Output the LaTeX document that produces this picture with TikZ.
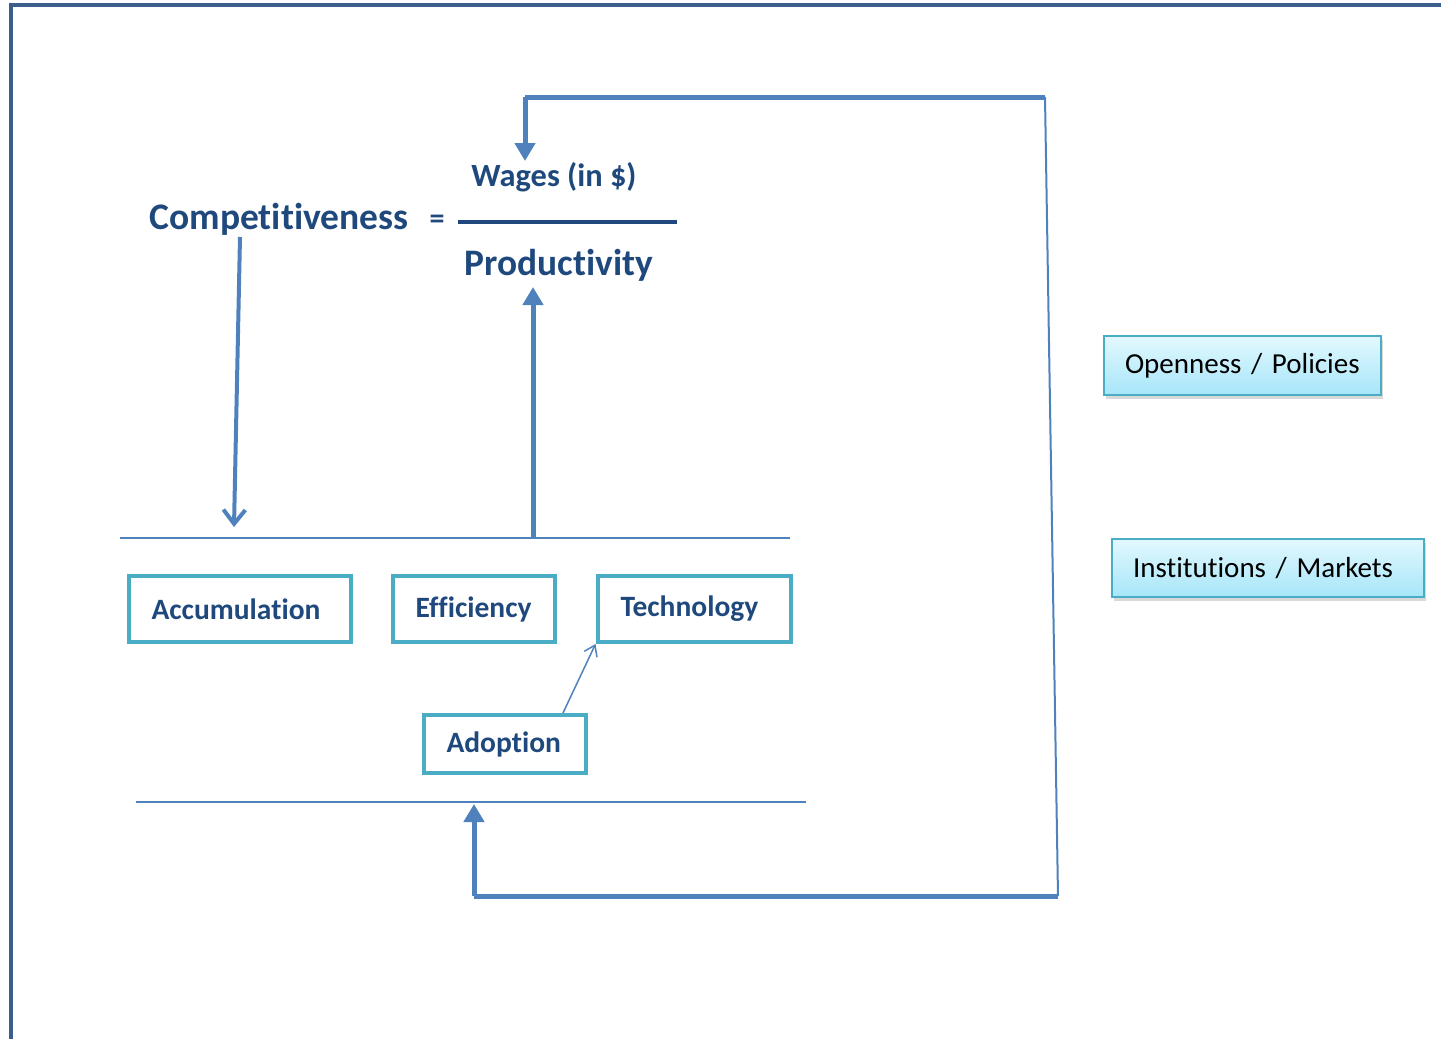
\documentclass[tikz,border=0pt]{standalone}
\usepackage{fontspec}
\setmainfont{Carlito}[Ligatures=NoCommon]
\usetikzlibrary{arrows.meta,shadows}
\definecolor{navy}{HTML}{1F497D}
\definecolor{lineblue}{HTML}{4F81BD}
\definecolor{boxcyan}{HTML}{4BACC6}
\definecolor{frameblue}{HTML}{3B5E8C}
\definecolor{gradtop}{HTML}{E3F8FE}
\definecolor{gradbot}{HTML}{A6E6F9}
\tikzset{
  navytext/.style={text=navy,font=\bfseries},
  catbox/.style={draw=boxcyan,line width=4pt,text=navy,font=\bfseries\fontsize{29.5}{33}\selectfont,
     inner xsep=23pt,inner ysep=0pt,align=left},
  sidebox/.style={draw=boxcyan,line width=1.5pt,top color=gradtop,bottom color=gradbot,
     drop shadow={opacity=0.3,shadow xshift=2pt,shadow yshift=-4pt},
     font=\fontsize{29}{33}\selectfont,text=black,inner xsep=21pt,inner ysep=0pt,align=left},
  thinline/.style={lineblue,line width=2pt},
  thickarrow/.style={lineblue,line width=5pt},
  filltip/.style={-{Triangle[length=18pt,width=20pt]}},
}
\begin{document}
\begin{tikzpicture}[x=1pt,y=-1pt]
\useasboundingbox (0,0) rectangle (1441,1039);
% frame
\draw[frameblue,line width=4pt] (11,1039) -- (11,5) -- (1441,5);
% equation
\node[navytext,font=\bfseries\fontsize{37.5}{42}\selectfont] (comp) at (279,219) {Competitiveness};
\node[navytext,font=\bfseries\fontsize{30}{34}\selectfont] (eq) at (437,222) {=};
\coordinate (barL) at (458,222);
\coordinate (barR) at (677,222);
\draw[navy,line width=4pt] (barL) -- (barR);
\node[navytext,font=\bfseries\fontsize{32.4}{36}\selectfont] (wages) at (554,177) {Wages (in \$)};
\node[navytext,font=\bfseries\fontsize{37.4}{42}\selectfont] (prod) at (559,265) {Productivity};
% horizontal lines
\coordinate (upL) at (120,538);
\coordinate (upR) at (790,538);
\draw[thinline] (upL) -- (upR);
\coordinate (loL) at (136,802);
\coordinate (loR) at (806,802);
\draw[thinline] (loL) -- (loR);
% competitiveness down arrow
\coordinate (c1) at (240,237);
\coordinate (c2) at (234,527);
\draw[lineblue,line width=4pt,-{Straight Barb[length=14pt,width=22pt,line width=4pt]}] (c1) -- (c2);
% productivity up arrow
\coordinate (p1) at (533,538);
\coordinate (p2) at (533,287);
\draw[thickarrow,filltip] (p1) -- (p2);
% category boxes
\node[catbox,text width=176pt,minimum height=66pt] (acc) at (239.5,609) {Accumulation};
\node[catbox,text width=116pt,minimum height=66pt] (eff) at (473.5,609) {Efficiency};
\node[catbox,text width=147pt,minimum height=66pt] (tech) at (694,609) {Technology};
\node[catbox,text width=116pt,minimum height=58pt] (adopt) at (504.5,744) {Adoption};
\draw[lineblue,line width=1.5pt,-{Straight Barb[length=10pt,width=14pt,line width=1.5pt]}] (adopt.north -| 563,0) -- (tech.south west);
% side boxes
\node[sidebox,text width=235pt,minimum height=59pt] (open) at (1242.5,365.5) {Openness / Policies};
\node[sidebox,text width=270pt,minimum height=58pt] (inst) at (1268,568) {Institutions / Markets};
% feedback loop
\coordinate (fTL) at (525,97);
\coordinate (fTR) at (1045,97);
\coordinate (fBR) at (1058,896);
\coordinate (fBL) at (474,896);
\coordinate (fTend) at (525,161);
\coordinate (fBend) at (474,804);
\draw[thickarrow] (fTR) -- (fTL);
\draw[thickarrow,filltip] (fTL) -- (fTend);
\draw[thinline] (fTR) -- (fBR);
\draw[thickarrow] (fBR) -- (fBL);
\draw[thickarrow,filltip] (fBL) -- (fBend);
\end{tikzpicture}
\end{document}
